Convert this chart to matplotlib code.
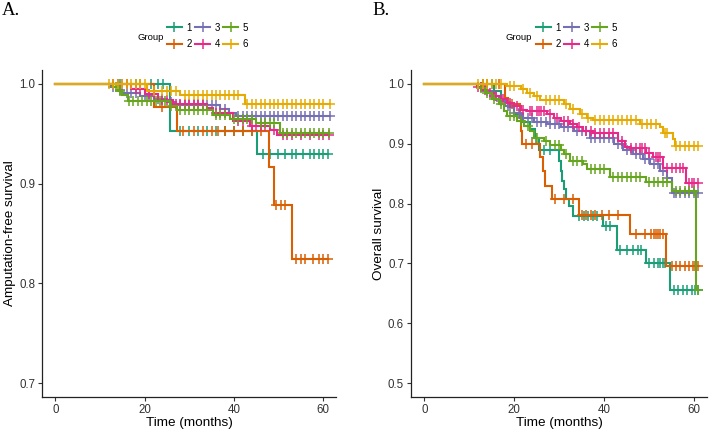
import numpy as np
import matplotlib
matplotlib.use("Agg")
import matplotlib.pyplot as plt
from matplotlib.lines import Line2D

# Kaplan-Meier curves: event times, survival after each
# event, censoring times. Curves start at (0, 1).

groups = ['1', '2', '3', '4', '5', '6']
colors = ['#1B9E77', '#D95F02', '#7570B3', '#E7298A', '#66A61E', '#E6AB02']

# ---- panel A: amputation-free survival ----
a1_t = [25.7, 45.2]
a1_s = [0.953, 0.930]
a1_c = [13, 14.5, 16, 18, 21.5, 23, 24.2, 28, 30, 32, 34, 36, 38, 40, 42, 44,
        46.5, 48, 50, 51.5, 53, 54, 55.5, 57, 58, 59, 60, 61.2]

a2_t = [22.0, 27.2, 47.8, 49.0, 53.0]
a2_s = [0.977, 0.953, 0.917, 0.879, 0.824]
a2_c = [14, 16, 19, 24, 28.5, 31, 33, 35, 36.5, 38, 40, 42, 44, 46, 49.5, 50.5,
        51.5, 54, 55, 56, 57.8, 59, 59.9, 61.0]

a3_t = [12.5, 14, 15, 19, 22, 25, 27, 37, 39, 40.5]
a3_s = [0.997, 0.994, 0.991, 0.988, 0.985, 0.982, 0.979, 0.975, 0.971, 0.968]
a3_c = [13, 14.5, 16, 17, 18, 20, 21, 23, 24, 26, 28, 29, 30, 31, 32, 33, 34,
        35, 36, 38, 41, 42, 43, 44, 45, 46, 47, 48, 49, 50, 51, 52, 53, 54, 55,
        56, 57, 58, 59, 60, 61.5]

a4_t = [17, 20, 23, 26.4, 33.9, 35.4, 39.9, 43.7, 48.1, 49.7]
a4_s = [0.995, 0.990, 0.984, 0.980, 0.976, 0.971, 0.963, 0.958, 0.954, 0.949]
a4_c = [13, 14, 15, 16, 18, 19, 21, 22, 24, 25, 27, 28, 29, 30, 31, 32, 33, 36,
        37, 38, 41, 42, 44, 45, 46, 47, 49, 51, 52, 53, 55, 57, 59, 60, 61.3]

a5_t = [13, 14, 15, 16.3, 25.7, 27.2, 35.4, 39.2, 45, 50.4]
a5_s = [0.997, 0.993, 0.989, 0.983, 0.978, 0.974, 0.969, 0.965, 0.961, 0.951]
a5_c = [13.5, 14.5, 16.5, 17.5, 18.5, 19.5, 20.5, 21.5, 22.5, 23.5, 24.5, 26,
        28, 29, 30, 31, 32, 33, 34, 36, 37, 38, 40, 41, 42, 43, 44, 46, 47, 48,
        49, 51, 52, 53, 54, 55, 56, 57, 58, 59, 60, 61.3]

a6_t = [20.5, 28.0, 42.5]
a6_s = [0.993, 0.989, 0.980]
a6_c = [12, 13, 14, 15, 16, 17, 18, 19, 20, 22, 24, 25, 26, 27, 29, 30, 31, 32,
        33, 34, 35, 36, 37, 38, 39, 40, 41, 43, 44, 45, 46, 47, 48, 49, 50, 51,
        52, 53, 54, 55, 56, 57, 58, 59, 60, 61.5]

# ---- panel B: overall survival ----
b1_t = [15.5, 17, 18.5, 20, 22, 23.5, 24.5, 25.5, 29.9, 30.3, 30.7, 31, 31.5,
        32.2, 33.1, 39.8, 42.8, 49.4, 54.6]
b1_s = [0.988, 0.975, 0.962, 0.950, 0.937, 0.924, 0.910, 0.889, 0.871, 0.854,
        0.837, 0.824, 0.807, 0.796, 0.780, 0.763, 0.723, 0.700, 0.656]
b1_c = [13, 15, 24.8, 26.5, 28, 34.5, 35.5, 36.5, 37.5, 38.5, 40.4, 41.4, 43.5,
        45, 46.5, 47.5, 48.2, 50, 51, 52, 52.5, 53, 53.5, 55.5, 56.5, 57.5,
        58.5, 59.5, 60.2, 60.8]

b2_t = [18.0, 18.5, 21.2, 21.5, 21.8, 25.8, 26.3, 26.9, 28.4, 34.3, 45.7, 53.8]
b2_s = [0.977, 0.966, 0.943, 0.921, 0.899, 0.877, 0.854, 0.829, 0.807, 0.781,
        0.749, 0.696]
b2_c = [13, 14, 16.5, 19.5, 22.5, 24, 29, 31, 33, 35, 36, 37, 38, 39.5, 41, 43,
        47, 49, 50.5, 51, 51.5, 52, 52.5, 53, 55, 56, 57, 58, 59, 59.8, 60.2,
        60.8]

b3_t = [12, 13.5, 15, 16.5, 18, 19.9, 21.4, 24.3, 27.3, 30.3, 33.2, 36.9, 42.1,
        44.3, 46.5, 48.7, 50.2, 52.4, 53.9, 55.0]
b3_s = [0.995, 0.988, 0.980, 0.972, 0.963, 0.952, 0.943, 0.936, 0.932, 0.927,
        0.921, 0.910, 0.899, 0.890, 0.882, 0.874, 0.866, 0.854, 0.843, 0.818]
b3_c = [12.5, 13, 14, 15.5, 16, 17, 18.5, 19, 20, 21, 22, 23, 24, 25, 26, 27,
        28, 29, 30, 31, 32, 33, 34, 35, 36, 37, 38, 39, 40, 41, 42, 43, 44, 45,
        46, 47, 48, 49, 50, 51, 52, 53, 54, 55.5, 56, 57, 58, 59, 60, 61]

b4_t = [11.8, 13, 14, 15.5, 17, 18.4, 19.9, 21.4, 22.9, 27.3, 28.8, 30.3, 32.5,
        33.9, 35.4, 37.6, 43.1, 44.6, 45.7, 49.4, 50.9, 53.1, 58.2]
b4_s = [0.995, 0.990, 0.985, 0.980, 0.975, 0.968, 0.963, 0.957, 0.954, 0.949,
        0.943, 0.938, 0.932, 0.927, 0.921, 0.917, 0.904, 0.895, 0.892, 0.885,
        0.877, 0.860, 0.835]
b4_c = [12, 12.5, 13.5, 14.5, 16, 17.5, 19, 20.5, 22, 23.5, 24, 25, 25.5, 26,
        26.5, 28, 29.5, 31, 32, 33, 34.5, 36, 37, 38, 39, 40, 41, 42, 44, 46,
        47, 48, 48.5, 49, 50, 51.5, 52, 52.5, 54, 55, 56, 57, 57.5, 59, 59.5,
        60, 61]

b5_t = [12, 13.5, 15, 16.6, 17.7, 18.4, 20.6, 22.1, 23.6, 24.3, 26.5, 28.0,
        30.3, 31.0, 32.5, 35.4, 36.2, 41.3, 49.4, 55.0, 60.5]
b5_s = [0.993, 0.985, 0.975, 0.966, 0.955, 0.946, 0.938, 0.929, 0.921, 0.910,
        0.905, 0.897, 0.890, 0.882, 0.871, 0.866, 0.858, 0.845, 0.836, 0.821,
        0.655]
b5_c = [12.5, 14, 15.5, 17, 19, 20, 21.5, 23, 25, 27, 29, 30, 31.5, 33, 34, 35,
        37, 38, 39, 40, 42, 43, 44, 45, 46, 47, 48, 50, 51, 52, 53, 54, 56, 57,
        58, 59, 60, 60.8]

b6_t = [18.4, 21.4, 22.9, 24.3, 25.8, 31.0, 32.5, 34.7, 36.1, 37.6, 47.9, 52.4,
        53.1, 55.3, 55.7]
b6_s = [0.996, 0.992, 0.985, 0.979, 0.973, 0.966, 0.958, 0.949, 0.943, 0.939,
        0.932, 0.927, 0.918, 0.907, 0.896]
b6_c = [12, 13, 14, 15, 16, 17, 19, 20, 22, 23.5, 25, 27, 28, 29, 30, 31.5, 33,
        35, 36.5, 38, 39, 40, 41, 42, 43, 44, 45, 46, 47, 48.5, 49.5, 50.5,
        51.5, 53.5, 54, 56, 57, 58, 59, 60, 61]

panel_a = [(a1_t, a1_s, a1_c), (a2_t, a2_s, a2_c), (a3_t, a3_s, a3_c),
           (a4_t, a4_s, a4_c), (a5_t, a5_s, a5_c), (a6_t, a6_s, a6_c)]
panel_b = [(b1_t, b1_s, b1_c), (b2_t, b2_s, b2_c), (b3_t, b3_s, b3_c),
           (b4_t, b4_s, b4_c), (b5_t, b5_s, b5_c), (b6_t, b6_s, b6_c)]

plt.rcParams['font.family'] = ['Liberation Sans', 'DejaVu Sans']

LW = 1.5
MS = 6.5


def km_panel(ax, data, ylim, yticks, ylabel):
    for (t, s, c), col in zip(data, colors):
        t = np.asarray(t, float)
        s = np.asarray(s, float)
        c = np.asarray(c, float)
        end = max(c.max(), t.max())
        xs = np.concatenate([[0], t, [end]])
        ys = np.concatenate([[1.0], s, [s[-1]]])
        ax.step(xs, ys, where='post', color=col, lw=LW, solid_joinstyle='miter')
        # survival level at each censoring time
        idx = np.searchsorted(t, c, side='right')
        cy = np.concatenate([[1.0], s])[idx]
        ax.plot(c, cy, ls='none', marker='+', ms=MS, mew=1.1, color=col)
    ax.set_xlim(-3.0, 62.9)
    ax.set_ylim(*ylim)
    ax.set_xticks([0, 20, 40, 60])
    ax.set_yticks(yticks)
    ax.set_yticklabels(['%.1f' % v for v in yticks])
    for side in ['top', 'right']:
        ax.spines[side].set_visible(False)
    for side in ['left', 'bottom']:
        ax.spines[side].set_linewidth(0.9)
        ax.spines[side].set_color('#222222')
    ax.tick_params(direction='out', length=3, width=0.8, color='#333333',
                   labelsize=8.3, labelcolor='#333333', pad=2)
    ax.set_xlabel('Time (months)', fontsize=9.7, labelpad=1)
    ax.set_ylabel(ylabel, fontsize=9.7, labelpad=2)


fig = plt.figure(figsize=(7.09, 4.32), dpi=100)
W, H = 709.0, 432.0

ax_a = fig.add_axes([42 / W, 1 - 397 / H, 294 / W, 327 / H])
km_panel(ax_a, panel_a, (0.686, 1.014), [0.7, 0.8, 0.9, 1.0],
         'Amputation-free survival')

ax_b = fig.add_axes([411 / W, 1 - 397 / H, 296 / W, 327 / H])
km_panel(ax_b, panel_b, (0.477, 1.023), [0.5, 0.6, 0.7, 0.8, 0.9, 1.0],
         'Overall survival')

handles = [Line2D([], [], color=c, lw=LW, marker='+', ms=MS, mew=1.1)
           for c in colors]

for title_x, leg_x, letter, letter_x in [(137, 167, 'A.', 2), (506, 536, 'B.', 372)]:
    fig.text(title_x / W, 1 - 37 / H, 'Group', fontsize=6.8, va='center',
             ha='left')
    fig.legend(handles, groups, loc='center left',
               bbox_to_anchor=(leg_x / W, 1 - 36 / H), ncol=3, frameon=False,
               fontsize=7.0, handlelength=1.5, handletextpad=0.5,
               columnspacing=0.35, labelspacing=0.7, borderpad=0,
               borderaxespad=0)
    fig.text(letter_x / W, 1 - 15 / H, letter, fontsize=13.5,
             family='Liberation Serif', va='baseline', ha='left')

fig.savefig('out.png', dpi=100)
